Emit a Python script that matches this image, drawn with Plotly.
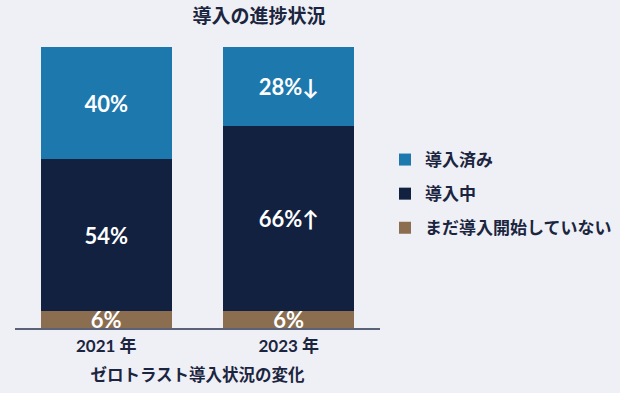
import plotly.graph_objects as go

categories = ["2021 年", "2023 年"]
not_started = [6, 6]
in_progress = [54, 66]
introduced = [40, 28]
not_started_labels = ["6%", "6%"]
in_progress_labels = ["54%", "66%↑"]
introduced_labels = ["40%", "28%↓"]
series_names = ["まだ導入開始していない", "導入中", "導入済み"]

BG = "#eff0f5"
DARK = "#1b2540"
CJK = "Lato, 'Noto Sans CJK JP', sans-serif"
LEG = "'Noto Sans CJK JP', sans-serif"

fig = go.Figure()
for rank, (name, vals, labels, color) in zip([3, 2, 1], [
    (series_names[0], not_started, not_started_labels, "#8a6e4f"),
    (series_names[1], in_progress, in_progress_labels, "#12213f"),
    (series_names[2], introduced, introduced_labels, "#1c78ad"),
]):
    fig.add_trace(go.Bar(
        x=categories, y=vals, name="<b>" + name + "</b>",
        text=["<b>" + t + "</b>" for t in labels],
        textposition="inside", insidetextanchor="middle",
        constraintext="none", cliponaxis=False,
        textfont=dict(color="white", size=22, family=CJK),
        marker=dict(color=color, line=dict(width=0)),
        width=0.72, legendgroup=name, legendrank=rank, hoverinfo="skip",
    ))

fig.update_layout(
    barmode="stack",
    width=620, height=393,
    margin=dict(l=15, r=240, t=47, b=65, autoexpand=False),
    paper_bgcolor=BG, plot_bgcolor=BG,
    font=dict(family=CJK, color=DARK),
    title=dict(text="<b>導入の進捗状況</b>", x=259/620, xanchor="center",
               y=1 - 16/393, yanchor="middle", font=dict(size=19, color=DARK)),
    xaxis=dict(range=[-0.5, 1.5], showline=True, linecolor="#5a6278", linewidth=1.5,
               ticks="", ticklabelstandoff=2, automargin=False,
               tickfont=dict(size=17, color=DARK, family=CJK),
               tickprefix="<b>", ticksuffix="</b>",
               title=dict(text="<b>ゼロトラスト導入状況の変化</b>", standoff=14,
                          font=dict(size=16.5, color=DARK))),
    yaxis=dict(range=[0, 100], visible=False, showgrid=False, automargin=False),
    legend=dict(xref="container", yref="container", x=385 / 620, xanchor="left",
                y=1 - 142 / 393, yanchor="top",
                traceorder="grouped", tracegroupgap=9,
                font=dict(size=17, color=DARK, family=LEG), bgcolor="rgba(0,0,0,0)",
                itemwidth=30),
    showlegend=True,
)

fig.write_html("out.html", config={"displayModeBar": False},
               post_script="document.body.style.margin='0';document.body.style.background='#eff0f5';")
